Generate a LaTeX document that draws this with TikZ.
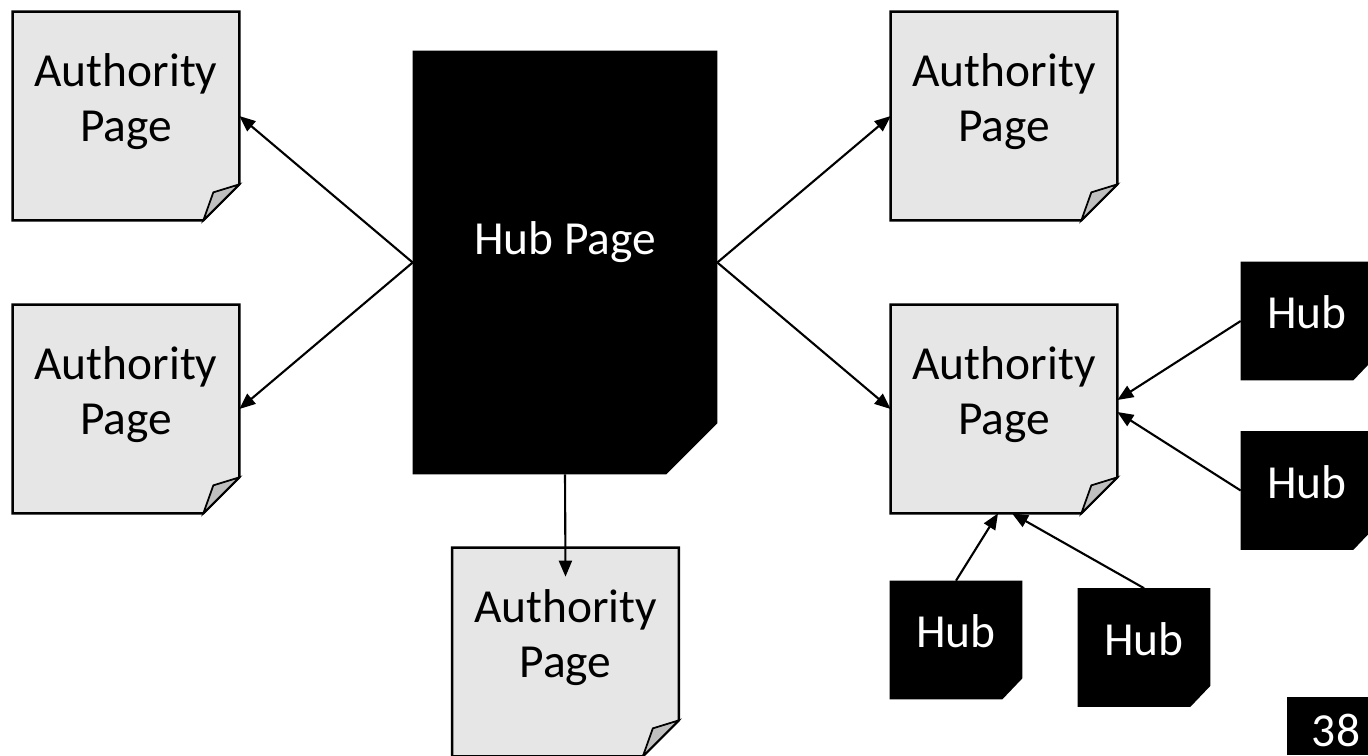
\documentclass[tikz,border=0pt]{standalone}
\usepackage{fontspec}
\setmainfont{Carlito}
\usepackage{xcolor}
\usetikzlibrary{arrows.meta, backgrounds}
\definecolor{authcolor}{RGB}{230, 230, 230}
\definecolor{foldcolor}{RGB}{191, 191, 191}

\begin{document}
\begin{tikzpicture}[x=0.02cm, y=-0.02cm,
    pagefont/.style={font=\fontsize{27}{31.3}\selectfont},
    authpage/.style={pagefont, align=center, minimum width=4.52cm, minimum height=4.16cm, text depth=0.74cm},
    hubpage/.style={pagefont, text=white, minimum width=6.08cm, minimum height=8.46cm, text depth=0.98cm},
    smallhub/.style={pagefont, text=white, minimum width=2.64cm, minimum height=2.36cm, text depth=0.34cm},
    link/.style={line width=1.2pt, -{Triangle[length=0.32cm, width=0.26cm]}}]
    \useasboundingbox (0, 0) rectangle (1368, 755);

    % Authority pages
    \node[authpage] (auth1) at (126, 116) {Authority\\Page};
    \node[authpage] (auth2) at (126, 409) {Authority\\Page};
    \node[authpage] (auth3) at (1004, 116) {Authority\\Page};
    \node[authpage] (auth4) at (1004, 409) {Authority\\Page};
    \node[authpage] (auth5) at (565.5, 652) {Authority\\Page};

    % Hub pages
    \node[hubpage] (hub) at (565, 262.5) {Hub Page};
    \node[smallhub] (hub1) at (1307, 321) {Hub};
    \node[smallhub] (hub2) at (1307, 490.5) {Hub};
    \node[smallhub] (hub3) at (956, 640) {Hub};
    \node[smallhub] (hub4) at (1144, 647.5) {Hub};

    % Slide number
    \node[pagefont, text=white, inner sep=1pt] (slidenum) at (1336, 730) {38};

    % Page outlines with folded corner
    \begin{scope}[on background layer]
        \foreach \n in {auth1, auth2, auth3, auth4, auth5} {
            \draw[line width=1.4pt, fill=authcolor] (\n.north west) -- (\n.north east) -- ([yshift=0.72cm]\n.south east) -- ([xshift=-0.72cm]\n.south east) -- (\n.south west) -- cycle;
            \draw[line width=1pt, fill=foldcolor] ([yshift=0.72cm]\n.south east) -- ++(-26, 8) -- ([xshift=-0.72cm]\n.south east) -- cycle;
        }
        \fill (hub.north west) -- (hub.north east) -- ([yshift=1.02cm]hub.south east) -- ([xshift=-1.02cm]hub.south east) -- (hub.south west) -- cycle;
        \foreach \n in {hub1, hub2, hub3, hub4}
            \fill (\n.north west) -- (\n.north east) -- ([yshift=0.42cm]\n.south east) -- ([xshift=-0.4cm]\n.south east) -- (\n.south west) -- cycle;
        \fill (1287, 697) rectangle (1368, 755);
    \end{scope}

    % Links
    \draw[link] (hub.west) -- (auth1.east);
    \draw[link] (hub.west) -- (auth2.east);
    \draw[link] (hub.east) -- (auth3.west);
    \draw[link] (hub.east) -- (auth4.west);
    \draw[link] (hub.south) -- ([yshift=-0.58cm]auth5.north);
    \draw[link] (hub1.west) -- ([yshift=0.18cm]auth4.east);
    \draw[link] (hub2.west) -- ([yshift=-0.06cm]auth4.east);
    \draw[link] (hub3.north) -- ([xshift=-0.12cm]auth4.south);
    \draw[link] (hub4.north) -- ([xshift=0.16cm]auth4.south);

\end{tikzpicture}
\end{document}
